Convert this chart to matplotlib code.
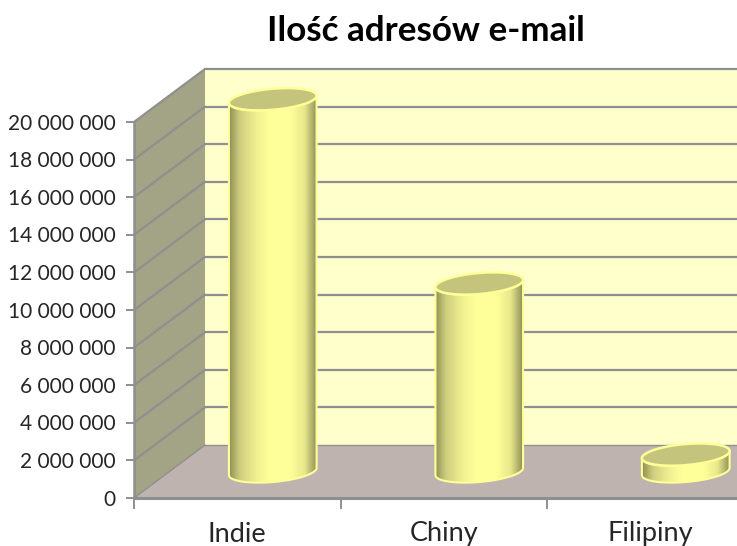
import numpy as np
import matplotlib
matplotlib.use("Agg")
import matplotlib.pyplot as plt
from matplotlib.colors import LinearSegmentedColormap
from matplotlib.patches import Polygon

# Data
categories = ["Indie", "Chiny", "Filipiny"]
values = [19800000, 10000000, 900000]
y_ticks = list(range(0, 20000001, 2000000))
title = "Ilość adresów e-mail"

plt.rcParams["font.family"] = ["Lato", "DejaVu Sans"]

W, H = 737, 546
fig = plt.figure(figsize=(W / 100, H / 100), dpi=100, facecolor="white")
ax = fig.add_axes([0, 0, 1, 1])
ax.axis("off")

# scales: one category = 206.5 px, 1 unit of value = 18.8 px per million
X0, Y0 = 134, 498
PX_CAT = 206.5
PX_VAL = 18.8 / 1e6
ax.set_xlim(-X0 / PX_CAT, (W - X0) / PX_CAT)
ax.set_ylim(-(H - Y0) / PX_VAL, Y0 / PX_VAL)

# 3D depth of the box
DX = 71 / PX_CAT
DY = 53 / PX_VAL
y_top = max(y_ticks)
x_end = len(categories)

GRID = "#8f8f8f"
ax.add_patch(Polygon([(DX, DY), (x_end + DX, DY), (x_end + DX, y_top + DY), (DX, y_top + DY)],
                     fc="#ffffcc", ec="none", zorder=1))
ax.add_patch(Polygon([(0, 0), (DX, DY), (DX, y_top + DY), (0, y_top)],
                     fc="#a3a385", ec="none", zorder=1))
ax.add_patch(Polygon([(0, 0), (x_end, 0), (x_end + DX, DY), (DX, DY)],
                     fc="#bfb3af", ec="none", zorder=1))

# gridlines on side wall and back wall
for v in y_ticks:
    lw = 1.6 if v > 0 else 1.0
    ax.plot([0, DX], [v, v + DY], color=GRID, lw=lw, zorder=2, solid_capstyle="round")
    ax.plot([DX, x_end + DX], [v + DY, v + DY], color=GRID, lw=lw, zorder=2)

# axis lines and ticks
ax.plot([0, 0], [0, y_top], color=GRID, lw=1.8, zorder=3)
ax.plot([0, x_end], [0, 0], color=GRID, lw=2.2, zorder=3)
for v in y_ticks:
    ax.plot([-7 / PX_CAT, 0], [v, v], color=GRID, lw=1.4, zorder=3)
    ax.text(-18 / PX_CAT, v - 1.5 / PX_VAL, f"{v:,}".replace(",", " "), ha="right", va="center",
            fontsize=15, color="#262626")
for i in range(len(categories) + 1):
    ax.plot([i, i], [0, -10 / PX_VAL], color=GRID, lw=1.4, zorder=3)
for i, name in enumerate(categories):
    ax.text(i + 0.5, -36 / PX_VAL, name, ha="center", va="center", fontsize=19.5, color="#262626")

ax.text(426 / W, 1 - 31 / H, title, transform=ax.transAxes, ha="center", va="center",
        fontsize=25.2, fontweight="bold", color="black")

# cylinders
body_cmap = LinearSegmentedColormap.from_list(
    "cyl", [(0, "#8f8f55"), (0.12, "#cdcd7e"), (0.3, "#efef90"), (0.45, "#ffff99"),
            (0.7, "#ffff99"), (0.86, "#e8e88c"), (1, "#8f8f58")])
R_X, R_Y, ANGLE = 44 / PX_CAT, 10.5 / PX_VAL, np.deg2rad(5)


def ellipse(cx, cy, t):
    # tilted ellipse, tilt has to be worked out in pixels
    px = 44 * np.cos(t) * np.cos(ANGLE) - 10.5 * np.sin(t) * np.sin(ANGLE)
    py = 44 * np.cos(t) * np.sin(ANGLE) + 10.5 * np.sin(t) * np.cos(ANGLE)
    return cx + px / PX_CAT, cy + py / PX_VAL


t_full = np.linspace(0, 2 * np.pi, 120)
t_low = np.linspace(np.pi, 2 * np.pi, 60)
t_high = np.linspace(2 * np.pi, np.pi, 60)

for i, v in enumerate(values):
    cx = i + 0.5 + DX / 2
    base = DY / 2
    top = base + v
    xb, yb = ellipse(cx, base, t_low)
    xt, yt = ellipse(cx, top, t_high)
    body = Polygon(np.column_stack([np.r_[xb, xt], np.r_[yb, yt]]), fc="none", ec="#ffff99",
                   lw=1.5, zorder=6)
    ax.add_patch(body)
    im = ax.imshow(np.linspace(0, 1, 256)[None, :], cmap=body_cmap, aspect="auto", zorder=5,
                   extent=[cx - R_X, cx + R_X, base - 2 * R_Y, top + 2 * R_Y])
    clip = Polygon(np.column_stack([np.r_[xb, xt], np.r_[yb, yt]]), transform=ax.transData)
    im.set_clip_path(clip)
    xe, ye = ellipse(cx, top, t_full)
    ax.add_patch(Polygon(np.column_stack([xe, ye]), fc="#c4c47c", ec="#ffff99", lw=1.8, zorder=7))

# imshow resets the limits
ax.set_xlim(-X0 / PX_CAT, (W - X0) / PX_CAT)
ax.set_ylim(-(H - Y0) / PX_VAL, Y0 / PX_VAL)

plt.savefig("out.png", dpi=100)
